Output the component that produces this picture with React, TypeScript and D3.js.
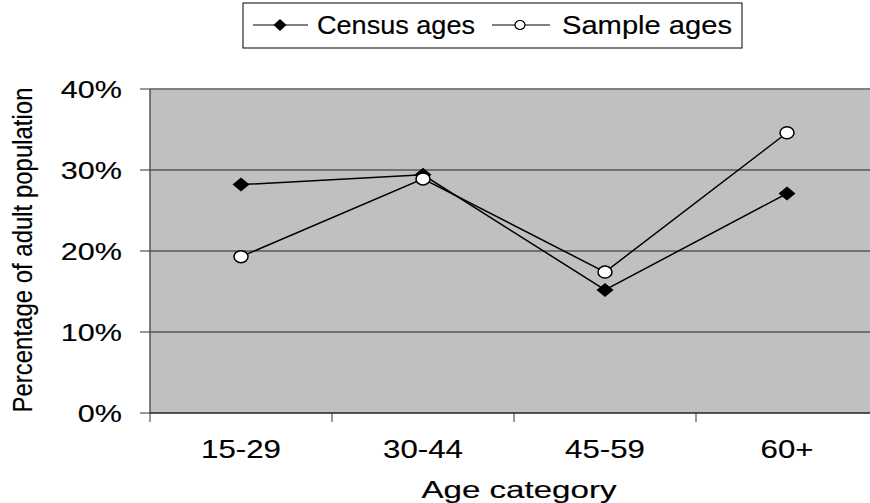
import React from "react";
import * as d3 from "d3";

const categories = ["15-29", "30-44", "45-59", "60+"];
const censusAges = [0.282, 0.294, 0.152, 0.271];
const sampleAges = [0.193, 0.289, 0.174, 0.346];
const yTicks = [0, 0.1, 0.2, 0.3, 0.4];
const seriesNames = ["Census ages", "Sample ages"];

const W = 870;
const H = 503;
const plot = { left: 150, right: 878, top: 89, bottom: 413 };
const FONT = "'Liberation Sans', Arial, sans-serif";

export default function App() {
  const x = d3.scaleBand<string>().domain(categories).range([plot.left, plot.right]);
  const y = d3.scaleLinear().domain([0, 0.4]).range([plot.bottom, plot.top]);
  const cx = (c: string) => (x(c) as number) + x.bandwidth() / 2;
  const line = d3
    .line<number>()
    .x((_, i) => cx(categories[i]))
    .y((v) => y(v));
  const fmt = d3.format(".0%");
  const diamond = (px: number, py: number, hw: number, hh: number) =>
    `M${px},${py - hh}L${px + hw},${py}L${px},${py + hh}L${px - hw},${py}Z`;
  const txt = { fill: "#000", stroke: "#000", strokeWidth: 0.15 };

  return (
    <div style={{ position: "fixed", left: 0, top: 0, width: W, height: H, background: "#fff" }}>
      <svg width={W} height={H} style={{ display: "block" }} fontFamily={FONT}>
        <rect x={0} y={0} width={W} height={H} fill="#fff" />
        {/* plot area */}
        <rect x={plot.left} y={plot.top} width={plot.right - plot.left} height={plot.bottom - plot.top} fill="#c0c0c0" />
        {yTicks.slice(1, -1).map((t) => (
          <line key={t} x1={plot.left} x2={plot.right} y1={y(t)} y2={y(t)} stroke="#222" strokeWidth={1} />
        ))}
        <line x1={plot.left} x2={plot.right} y1={y(0.4)} y2={y(0.4)} stroke="#808080" strokeWidth={2} />
        {/* axes */}
        <line x1={plot.left} x2={plot.left} y1={plot.top} y2={plot.bottom} stroke="#555" strokeWidth={1.5} />
        <line x1={plot.left} x2={plot.right} y1={plot.bottom} y2={plot.bottom} stroke="#222" strokeWidth={1.5} />
        {yTicks.map((t) => (
          <g key={t}>
            <line x1={plot.left - 10} x2={plot.left} y1={y(t)} y2={y(t)} stroke="#333" strokeWidth={1} />
            <text transform={`translate(122,${y(t) + 8.5}) scale(1.3,1)`} textAnchor="end" fontSize={23.5} {...txt}>
              {fmt(t)}
            </text>
          </g>
        ))}
        {categories.map((c) => (
          <g key={c}>
            <line x1={x(c) as number} x2={x(c) as number} y1={plot.bottom} y2={plot.bottom + 9} stroke="#333" strokeWidth={1} />
            <text transform={`translate(${cx(c)},458) scale(1.2,1)`} textAnchor="middle" fontSize={26} {...txt}>
              {c}
            </text>
          </g>
        ))}
        {/* lines */}
        <path d={line(censusAges) || ""} fill="none" stroke="#000" strokeWidth={1.5} />
        <path d={line(sampleAges) || ""} fill="none" stroke="#000" strokeWidth={1.5} />
        {censusAges.map((v, i) => (
          <path key={"c" + i} d={diamond(cx(categories[i]), y(v), 8.5, 7)} fill="#000" />
        ))}
        {sampleAges.map((v, i) => (
          <ellipse key={"s" + i} cx={cx(categories[i])} cy={y(v)} rx={7} ry={6} fill="#fff" stroke="#000" strokeWidth={1.5} />
        ))}
        {/* axis titles */}
        <text x={519} y={498} textAnchor="middle" fontSize={24} textLength={195} lengthAdjust="spacingAndGlyphs" {...txt}>
          Age category
        </text>
        <text
          transform="translate(32,250) rotate(-90)"
          textAnchor="middle"
          fontSize={27}
          textLength={325}
          lengthAdjust="spacingAndGlyphs"
          {...txt}
        >
          Percentage of adult population
        </text>
        {/* legend */}
        <rect x={243} y={3} width={499} height={45} fill="#fff" stroke="#000" strokeWidth={1} />
        <line x1={253} x2={308} y1={25} y2={25} stroke="#000" strokeWidth={1.2} />
        <path d={diamond(280, 25, 6.5, 6)} fill="#000" />
        <text x={317} y={34} fontSize={25} textLength={158} lengthAdjust="spacingAndGlyphs" {...txt}>
          {seriesNames[0]}
        </text>
        <line x1={492} x2={550} y1={25} y2={25} stroke="#000" strokeWidth={1.2} />
        <ellipse cx={520} cy={25} rx={5} ry={4.5} fill="#fff" stroke="#000" strokeWidth={1.2} />
        <text x={562} y={34} fontSize={25} textLength={170} lengthAdjust="spacingAndGlyphs" {...txt}>
          {seriesNames[1]}
        </text>
      </svg>
    </div>
  );
}
